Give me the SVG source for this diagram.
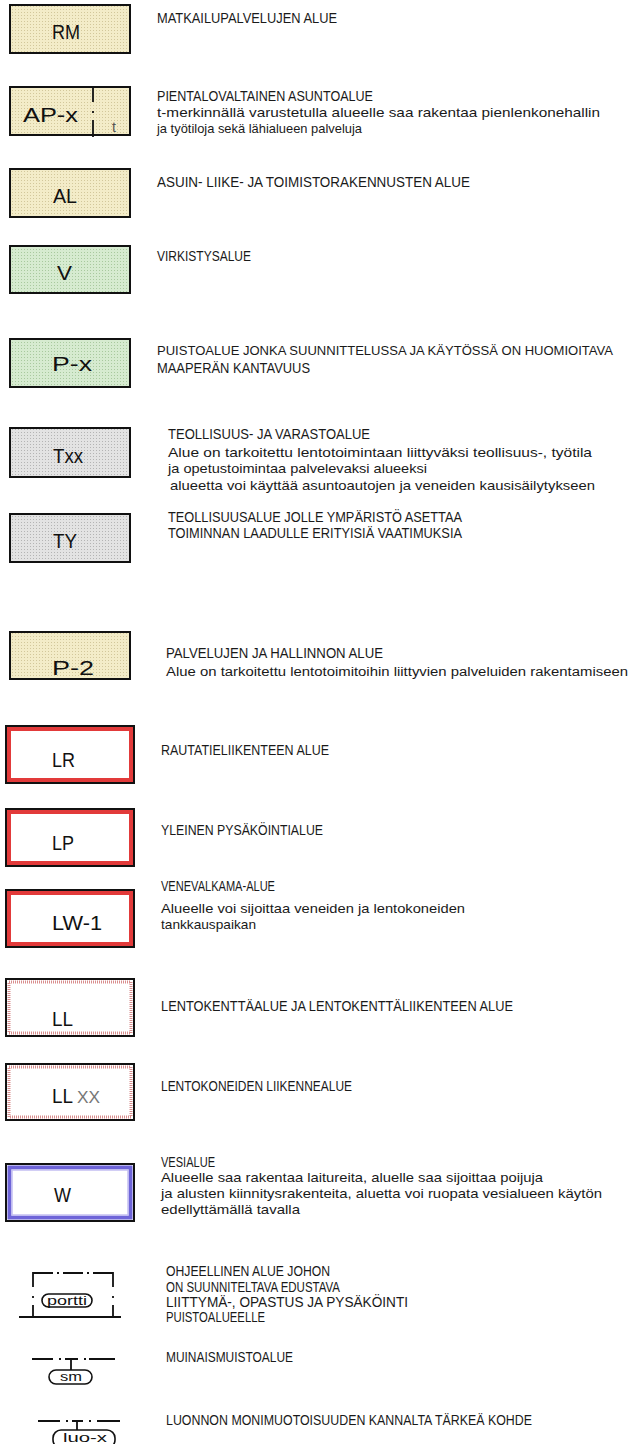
<svg xmlns="http://www.w3.org/2000/svg" width="634" height="1444" viewBox="0 0 634 1444">
<defs>
<pattern id="pBeige" width="3" height="3" patternUnits="userSpaceOnUse"><rect width="3" height="3" fill="#f3ecc8"/><rect width="1" height="1" fill="#d2c79a"/></pattern>
<pattern id="pGreen" width="3" height="3" patternUnits="userSpaceOnUse"><rect width="3" height="3" fill="#d6ebd0"/><rect width="1" height="1" fill="#a8c99e"/></pattern>
<pattern id="pGray" width="3" height="3" patternUnits="userSpaceOnUse"><rect width="3" height="3" fill="#e3e3e3"/><rect width="1" height="1" fill="#b4b4b4"/></pattern>
<style>
.box{stroke:#111;stroke-width:2}
.lab{font-family:"Liberation Sans",Arial,sans-serif;font-size:20px;fill:#111}
.d{font-family:"Liberation Sans Narrow","Liberation Sans",Arial,sans-serif;font-size:14px;fill:#1a1a1a}
.dl{font-family:"Liberation Sans Narrow","Liberation Sans",Arial,sans-serif;font-size:13.5px;fill:#1a1a1a}
.red{fill:none;stroke:#e23a3a;stroke-width:4}
.pink{fill:none;stroke:#d98e8e;stroke-width:3;stroke-dasharray:1 1}
.ln{fill:none;stroke:#111;stroke-width:1.8}
.pill{fill:#fff;stroke:#111;stroke-width:1.6}
.pt{font-family:"Liberation Sans Narrow","Liberation Sans",Arial,sans-serif;font-size:12px;fill:#111;text-anchor:middle}
</style>
</defs>
<rect width="634" height="1444" fill="#fff"/>

<g id="RM">
<rect class="box" x="10" y="5" width="120" height="48" fill="url(#pBeige)"/>
<text class="lab" x="52" y="39" textLength="28" lengthAdjust="spacingAndGlyphs">RM</text>
<text class="d" x="157" y="23" textLength="180" lengthAdjust="spacingAndGlyphs">MATKAILUPALVELUJEN ALUE</text>
</g>

<g id="AP-x">
<rect class="box" x="10" y="87" width="120" height="48" fill="url(#pBeige)"/>
<path class="ln" d="M93 87V102M93 111V113M93 120V137" stroke-width="1.5"/>
<text class="lab" x="23" y="122" textLength="55" lengthAdjust="spacingAndGlyphs">AP-x</text>
<text x="114" y="132" font-family="Liberation Sans Narrow,Liberation Sans,sans-serif" font-size="14" fill="#555" text-anchor="middle">t</text>
<text class="d" x="157" y="101" textLength="216" lengthAdjust="spacingAndGlyphs">PIENTALOVALTAINEN ASUNTOALUE</text>
<text class="dl" x="157" y="117" textLength="443" lengthAdjust="spacingAndGlyphs">t-merkinnällä varustetulla alueelle saa rakentaa pienlenkonehallin</text>
<text class="dl" x="157" y="133" textLength="205" lengthAdjust="spacingAndGlyphs">ja työtiloja sekä lähialueen palveluja</text>
</g>

<g id="AL">
<rect class="box" x="10" y="169" width="120" height="48" fill="url(#pBeige)"/>
<text class="lab" x="53" y="203" textLength="24" lengthAdjust="spacingAndGlyphs">AL</text>
<text class="d" x="157" y="187" textLength="313" lengthAdjust="spacingAndGlyphs">ASUIN- LIIKE- JA TOIMISTORAKENNUSTEN ALUE</text>
</g>

<g id="V">
<rect class="box" x="10" y="246" width="120" height="47" fill="url(#pGreen)"/>
<text class="lab" x="57" y="280" textLength="15" lengthAdjust="spacingAndGlyphs">V</text>
<text class="d" x="157" y="261" textLength="94" lengthAdjust="spacingAndGlyphs">VIRKISTYSALUE</text>
</g>

<g id="P-x">
<rect class="box" x="10" y="339" width="120" height="48" fill="url(#pGreen)"/>
<text class="lab" x="52" y="371" textLength="40" lengthAdjust="spacingAndGlyphs">P-x</text>
<text class="d" x="157" y="355" font-size="12.5" textLength="456" lengthAdjust="spacingAndGlyphs" style="font-size:12.5px">PUISTOALUE JONKA SUUNNITTELUSSA JA KÄYTÖSSÄ ON HUOMIOITAVA</text>
<text class="d" x="157" y="373" textLength="153" lengthAdjust="spacingAndGlyphs">MAAPERÄN KANTAVUUS</text>
</g>

<g id="Txx">
<rect class="box" x="10" y="428" width="120" height="49" fill="url(#pGray)"/>
<text class="lab" x="53" y="463" textLength="30" lengthAdjust="spacingAndGlyphs">Txx</text>
<text class="d" x="168" y="439" textLength="202" lengthAdjust="spacingAndGlyphs">TEOLLISUUS- JA VARASTOALUE</text>
<text class="dl" x="168" y="457" textLength="424" lengthAdjust="spacingAndGlyphs">Alue on tarkoitettu lentotoimintaan liittyväksi teollisuus-, työtila</text>
<text class="dl" x="168" y="473" textLength="259" lengthAdjust="spacingAndGlyphs">ja opetustoimintaa palvelevaksi alueeksi</text>
<text class="dl" x="170" y="490" textLength="425" lengthAdjust="spacingAndGlyphs">alueetta voi käyttää asuntoautojen ja veneiden kausisäilytykseen</text>
</g>

<g id="TY">
<rect class="box" x="10" y="514" width="120" height="48" fill="url(#pGray)"/>
<text class="lab" x="53" y="548" textLength="24" lengthAdjust="spacingAndGlyphs">TY</text>
<text class="d" x="168" y="522" textLength="294" lengthAdjust="spacingAndGlyphs">TEOLLISUUSALUE JOLLE YMPÄRISTÖ ASETTAA</text>
<text class="d" x="168" y="538" textLength="294" lengthAdjust="spacingAndGlyphs">TOIMINNAN LAADULLE ERITYISIÄ VAATIMUKSIA</text>
</g>

<g id="P-2">
<rect class="box" x="10" y="632" width="120" height="47" fill="url(#pBeige)"/>
<text class="lab" x="52" y="675" textLength="42" lengthAdjust="spacingAndGlyphs">P-2</text>
<text class="d" x="166" y="658" textLength="217" lengthAdjust="spacingAndGlyphs">PALVELUJEN JA HALLINNON ALUE</text>
<text class="dl" x="166" y="676" textLength="462" lengthAdjust="spacingAndGlyphs" style="font-size:12.5px">Alue on tarkoitettu lentotoimitoihin liittyvien palveluiden rakentamiseen</text>
</g>

<g id="LR">
<rect class="box" x="6" y="726" width="128" height="57" fill="#fff"/>
<rect class="red" x="9" y="729" width="122" height="51"/>
<text class="lab" x="52" y="767" textLength="23" lengthAdjust="spacingAndGlyphs">LR</text>
<text class="d" x="161" y="755" textLength="168" lengthAdjust="spacingAndGlyphs">RAUTATIELIIKENTEEN ALUE</text>
</g>

<g id="LP">
<rect class="box" x="6" y="809" width="128" height="57" fill="#fff"/>
<rect class="red" x="9" y="812" width="122" height="51"/>
<text class="lab" x="52" y="850" textLength="22" lengthAdjust="spacingAndGlyphs">LP</text>
<text class="d" x="161" y="835" textLength="162" lengthAdjust="spacingAndGlyphs">YLEINEN PYSÄKÖINTIALUE</text>
</g>

<g id="LW-1">
<rect class="box" x="6" y="890" width="128" height="57" fill="#fff"/>
<rect class="red" x="9" y="893" width="122" height="51"/>
<text class="lab" x="52" y="930" textLength="50" lengthAdjust="spacingAndGlyphs">LW-1</text>
<text class="d" x="161" y="891" textLength="114" lengthAdjust="spacingAndGlyphs">VENEVALKAMA-ALUE</text>
<text class="dl" x="161" y="913" textLength="304" lengthAdjust="spacingAndGlyphs">Alueelle voi sijoittaa veneiden ja lentokoneiden</text>
<text class="dl" x="161" y="929" textLength="95" lengthAdjust="spacingAndGlyphs">tankkauspaikan</text>
</g>

<g id="LL">
<rect class="box" x="6" y="979" width="128" height="57" fill="#fff"/>
<rect class="pink" x="9" y="982" width="122" height="51"/>
<text class="lab" x="52" y="1026" textLength="21" lengthAdjust="spacingAndGlyphs">LL</text>
<text class="d" x="161" y="1011" textLength="352" lengthAdjust="spacingAndGlyphs">LENTOKENTTÄALUE JA LENTOKENTTÄLIIKENTEEN ALUE</text>
</g>

<g id="LLxx">
<rect class="box" x="6" y="1064" width="128" height="56" fill="#fff"/>
<rect class="pink" x="9" y="1067" width="122" height="50"/>
<text class="lab" x="52" y="1103" textLength="21" lengthAdjust="spacingAndGlyphs">LL</text>
<text x="77" y="1103" font-family="Liberation Sans Narrow,Liberation Sans,sans-serif" font-size="17" fill="#777" textLength="23" lengthAdjust="spacingAndGlyphs">XX</text>
<text class="d" x="161" y="1091" textLength="191" lengthAdjust="spacingAndGlyphs">LENTOKONEIDEN LIIKENNEALUE</text>
</g>

<g id="W">
<rect class="box" x="6" y="1164" width="128" height="57" fill="#fff"/>
<rect x="9.5" y="1167.5" width="121" height="50" fill="none" stroke="#6e64d8" stroke-width="4"/>
<rect x="12" y="1170" width="116" height="45" fill="none" stroke="#c4bff2" stroke-width="1.5"/>
<text class="lab" x="54" y="1202" textLength="17" lengthAdjust="spacingAndGlyphs">W</text>
<text class="d" x="161" y="1167" textLength="54" lengthAdjust="spacingAndGlyphs">VESIALUE</text>
<text class="dl" x="161" y="1182" textLength="382" lengthAdjust="spacingAndGlyphs">Alueelle saa rakentaa laitureita, aluelle saa sijoittaa poijuja</text>
<text class="dl" x="161" y="1198" textLength="441" lengthAdjust="spacingAndGlyphs">ja alusten kiinnitysrakenteita, aluetta voi ruopata vesialueen käytön</text>
<text class="dl" x="161" y="1214" textLength="139" lengthAdjust="spacingAndGlyphs">edellyttämällä tavalla</text>
</g>

<g id="portti">
<path class="ln" d="M33 1287V1273H53M57 1273H59M63 1273H83M87 1273H89M93 1273H113V1287M33 1296V1298M33 1305V1317M113 1296V1298M113 1305V1317"/>
<path class="ln" d="M19 1317H121" stroke-width="2"/>
<rect class="pill" x="42" y="1294" width="50" height="13" rx="6.5"/>
<text class="pt" x="67" y="1305" textLength="40" lengthAdjust="spacingAndGlyphs">portti</text>
<text class="d" x="166" y="1276" textLength="164" lengthAdjust="spacingAndGlyphs">OHJEELLINEN ALUE JOHON</text>
<text class="d" x="166" y="1292" textLength="174" lengthAdjust="spacingAndGlyphs">ON SUUNNITELTAVA EDUSTAVA</text>
<text class="d" x="166" y="1307" textLength="242" lengthAdjust="spacingAndGlyphs">LIITTYMÄ-, OPASTUS JA PYSÄKÖINTI</text>
<text class="d" x="166" y="1322" textLength="99" lengthAdjust="spacingAndGlyphs">PUISTOALUEELLE</text>
</g>

<g id="sm">
<path class="ln" d="M32 1359H53M59 1359H61M65 1359H78M84 1359H86M89 1359H115M71 1359V1370"/>
<rect class="pill" x="49" y="1370" width="43" height="14" rx="7"/>
<text class="pt" x="71" y="1381" textLength="22" lengthAdjust="spacingAndGlyphs">sm</text>
<text class="d" x="166" y="1362" textLength="127" lengthAdjust="spacingAndGlyphs">MUINAISMUISTOALUE</text>
</g>

<g id="luo-x">
<path class="ln" d="M38 1421H60M66 1421H68M72 1421H83M89 1421H91M97 1421H120M77 1421V1430"/>
<rect class="pill" x="53" y="1430" width="62" height="18" rx="8"/>
<text class="pt" x="85" y="1442" textLength="44" lengthAdjust="spacingAndGlyphs">luo-x</text>
<text class="d" x="166" y="1425" textLength="366" lengthAdjust="spacingAndGlyphs">LUONNON MONIMUOTOISUUDEN KANNALTA TÄRKEÄ KOHDE</text>
</g>
</svg>
